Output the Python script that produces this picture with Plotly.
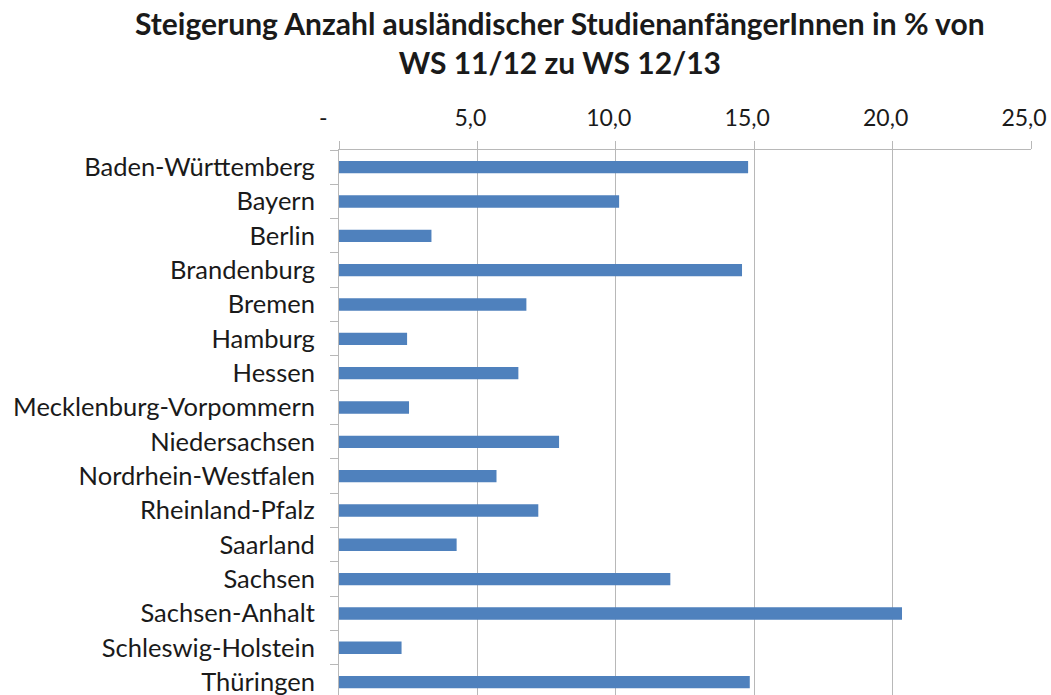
import plotly.graph_objects as go

laender = ["Baden-Württemberg", "Bayern", "Berlin", "Brandenburg", "Bremen", "Hamburg",
           "Hessen", "Mecklenburg-Vorpommern", "Niedersachsen", "Nordrhein-Westfalen",
           "Rheinland-Pfalz", "Saarland", "Sachsen", "Sachsen-Anhalt",
           "Schleswig-Holstein", "Thüringen"]
steigerung = [14.78, 10.12, 3.34, 14.56, 6.77, 2.46, 6.48, 2.53, 7.95, 5.69,
              7.20, 4.25, 11.97, 20.34, 2.26, 14.84]

tick_vals = [0, 5, 10, 15, 20, 25]
tick_text = ["-\u00a0\u00a0\u00a0", "5,0", "10,0", "15,0", "20,0", "25,0"]

fig = go.Figure(go.Bar(
    x=steigerung, y=laender, orientation="h",
    marker=dict(color="#4F81BD", line=dict(width=0)),
    width=0.36,
))

fig.update_layout(
    width=1051, height=695,
    margin=dict(l=339, r=20, t=150, b=0, autoexpand=False),
    paper_bgcolor="white", plot_bgcolor="white",
    font=dict(family="Lato", color="#1a1a1a"),
    showlegend=False,
)

fig.add_annotation(
    text="<b>Steigerung Anzahl ausländischer StudienanfängerInnen in % von<br>WS 11/12 zu WS 12/13</b>",
    xref="paper", yref="paper", x=0.32, xanchor="center", y=1.197, yanchor="middle",
    showarrow=False, align="center",
    font=dict(size=30, family="Lato", color="#1a1a1a"),
)

# labels sit a little left of their gridline, like in the Excel original
fig.update_xaxes(
    side="top", range=[0, 25], tickvals=tick_vals, ticktext=tick_text,
    showgrid=True, gridcolor="#b8b8b8", gridwidth=1,
    showline=True, linecolor="#b8b8b8", linewidth=1,
    ticks="outside", ticklen=8, tickcolor="#b8b8b8",
    tickfont=dict(size=23, family="Lato", color="#1a1a1a"),
    ticklabelshift=-7, ticklabelstandoff=6,
    zeroline=False, automargin=False,
)

fig.update_yaxes(
    categoryorder="array", categoryarray=laender,
    range=[15.375, -0.5],
    showline=True, linecolor="#b8b8b8", linewidth=1,
    ticks="outside", ticklen=8, tickcolor="#b8b8b8", tickson="boundaries",
    tickfont=dict(size=25.5, family="Lato", color="#1a1a1a"),
    showgrid=False, ticklabelstandoff=18, automargin=False,
)

fig.write_html("out.html", config={"displayModeBar": False},
               post_script="document.body.style.margin='0';document.body.style.overflow='hidden';")
